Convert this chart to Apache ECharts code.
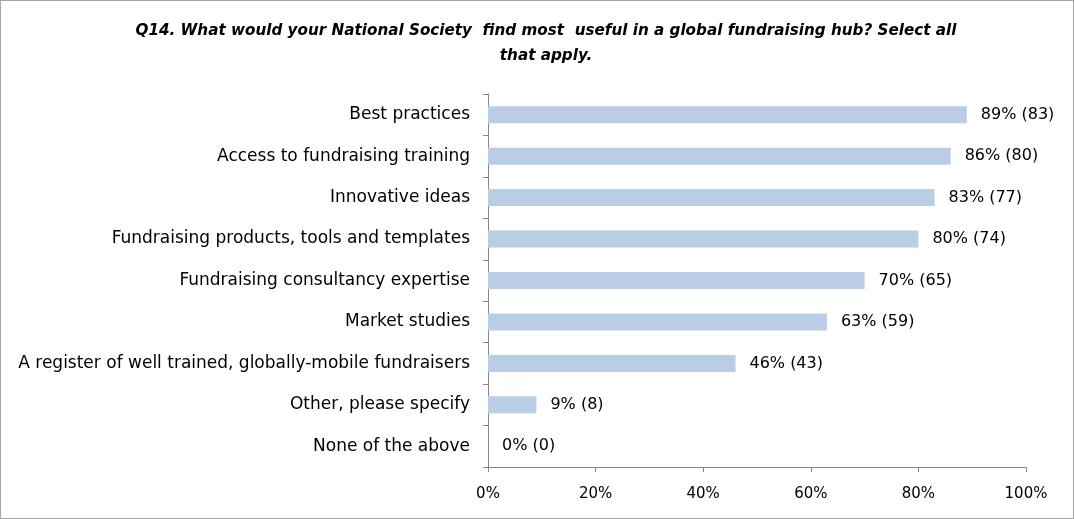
<!DOCTYPE html>
<html>
<head>
<meta charset="utf-8">
<script src="https://cdn.jsdelivr.net/npm/echarts@6/dist/echarts.min.js"></script>
<style>
    html, body { margin: 0; padding: 0; background: #fff; }
    #chart { width: 1074px; height: 519px; box-sizing: border-box; border: 1px solid #a6a6a6; }
</style>
</head>
<body>
<div id="chart"></div>
<script>
    // answers, top to bottom as in the survey chart
    const categories = [
        'Best practices',
        'Access to fundraising training',
        'Innovative ideas',
        'Fundraising products, tools and templates',
        'Fundraising consultancy expertise',
        'Market studies',
        'A register of well trained, globally-mobile fundraisers',
        'Other, please specify',
        'None of the above'
    ];
    const percents = [89, 86, 83, 80, 70, 63, 46, 9, 0];
    const counts = [83, 80, 77, 74, 65, 59, 43, 8, 0];
    const xTicks = [0, 20, 40, 60, 80, 100];

    const font = '"DejaVu Sans", sans-serif';
    const chart = echarts.init(document.getElementById('chart'));
    const option = {
        animation: false,
        title: {
            text: 'Q14. What would your National Society  find most  useful in a global fundraising hub? Select all\nthat apply.',
            left: 540,
            textAlign: 'center',
            top: 13,
            textStyle: {
                fontFamily: font,
                fontSize: 15.2,
                fontStyle: 'italic',
                fontWeight: 'bold',
                color: '#000',
                lineHeight: 25
            }
        },
        grid: {
            left: 487,
            right: 47,
            top: 93,
            bottom: 51,
            containLabel: false
        },
        xAxis: {
            type: 'value',
            min: 0,
            max: 100,
            interval: 20,
            splitLine: { show: false },
            axisLine: { show: true, lineStyle: { color: '#868686' } },
            axisTick: { show: true, length: 5, lineStyle: { color: '#868686' } },
            axisLabel: {
                margin: 20,
                fontFamily: font,
                fontSize: 15,
                color: '#000',
                formatter: function (v) { return xTicks.indexOf(v) >= 0 ? v + '%' : ''; }
            }
        },
        yAxis: {
            type: 'category',
            inverse: true,
            data: categories,
            axisLine: { show: true, lineStyle: { color: '#868686' } },
            axisTick: { show: true, length: 5, lineStyle: { color: '#868686' } },
            axisLabel: {
                margin: 18,
                fontFamily: font,
                fontSize: 17,
                color: '#000'
            }
        },
        series: [{
            type: 'bar',
            data: percents,
            barWidth: 17,
            itemStyle: { color: '#b9cde5' },
            label: {
                show: true,
                position: 'right',
                distance: 14,
                fontFamily: font,
                fontSize: 16,
                color: '#000',
                formatter: function (p) { return percents[p.dataIndex] + '% (' + counts[p.dataIndex] + ')'; }
            }
        }]
    };
    chart.setOption(option);
</script>
</body>
</html>
